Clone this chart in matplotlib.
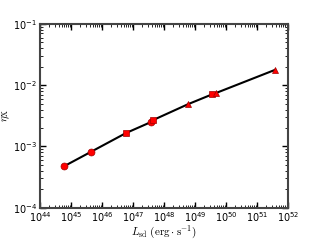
import numpy as np
import matplotlib
matplotlib.use('Agg')
import matplotlib.pyplot as plt

plt.rcParams['mathtext.fontset'] = 'cm'

# spin-down luminosity and efficiency
circ_L = [5.8e44, 4.5e45, 3.8e47]
circ_eta = [4.7e-4, 8.2e-4, 2.5e-3]
sq_L = [5.9e46, 4.5e47, 3.6e49]
sq_eta = [1.65e-3, 2.7e-3, 7.1e-3]
tri_L = [6.0e48, 4.6e49, 3.8e51]
tri_eta = [4.9e-3, 7.4e-3, 1.78e-2]

# curve through all points
allL = np.array(circ_L + sq_L + tri_L)
alleta = np.array(circ_eta + sq_eta + tri_eta)
o = np.argsort(allL)

fig = plt.figure(figsize=(3.2, 2.4), dpi=100)
ax = fig.add_axes([0.125, 0.135, 0.775, 0.765])

ax.plot(allL[o], alleta[o], color='k', lw=1.5, zorder=2)
ax.plot(circ_L, circ_eta, 'o', color='red', mec='#a00000', mew=0.5, ms=5, zorder=3)
ax.plot(sq_L, sq_eta, 's', color='red', mec='#a00000', mew=0.5, ms=5, zorder=3)
ax.plot(tri_L, tri_eta, '^', color='red', mec='#a00000', mew=0.5, ms=5, zorder=3)

ax.set_xscale('log')
ax.set_yscale('log')
ax.set_xlim(1e44, 1e52)
ax.set_ylim(1e-4, 1e-1)
ax.set_xticks([10.0**k for k in range(44, 53)])
ax.set_yticks([1e-4, 1e-3, 1e-2, 1e-1])
ax.tick_params(which='both', direction='in', top=True, right=True, labelsize=7)
ax.tick_params(which='major', length=4, width=1, pad=2)
ax.tick_params(which='minor', length=2, width=0.6)
for s in ax.spines.values():
    s.set_linewidth(1.5)
    s.set_color('#444444')

ax.set_xlabel(r'$L_{\rm sd}\ (\rm erg\cdot s^{-1})$', fontsize=8, labelpad=0)
ax.set_ylabel(r'$\eta_{\rm X}$', fontsize=8, labelpad=1)

fig.savefig('out.png', dpi=100)
